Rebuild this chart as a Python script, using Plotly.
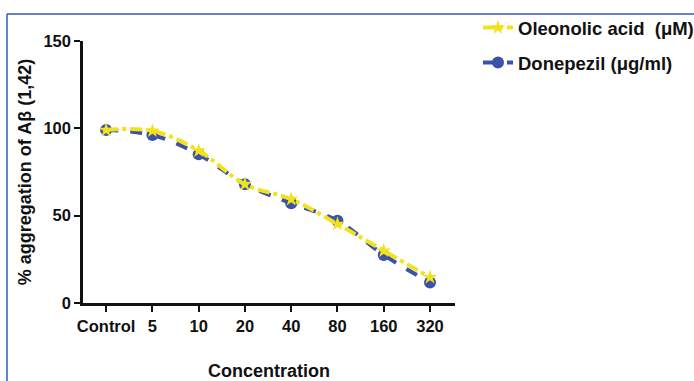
import plotly.graph_objects as go

categories = ["Control", "5", "10", "20", "40", "80", "160", "320"]
oleonolic = [99, 98.6, 87.2, 68, 59.4, 45.2, 29.9, 14.7]
donepezil = [99, 96.2, 85.1, 68, 57.1, 47.1, 27.5, 11.8]
y_ticks = [0, 50, 100, 150]

YELLOW = "#F2E21C"
BLUE = "#3A53A6"
FONT = "Liberation Sans, Arial, sans-serif"

xi = list(range(len(categories)))

fig = go.Figure()
fig.add_trace(go.Scatter(
    x=xi, y=donepezil, mode="lines+markers", name="Donepezil (μg/ml)",
    line=dict(color=BLUE, width=4, dash="dash", shape="spline"),
    marker=dict(symbol="circle", size=12, color=BLUE),
    legend="legend2",
))
fig.add_trace(go.Scatter(
    x=xi, y=oleonolic, mode="lines+markers", name="Oleonolic acid  (μM)",
    line=dict(color=YELLOW, width=4, dash="dashdot", shape="spline"),
    marker=dict(symbol="star", size=11, color=YELLOW),
    legend="legend",
))

W, H = 694, 381
L, R, T, B = 83, 239, 41, 78
pw = W - L - R
ph = H - T - B

def px(x):
    return (x - L) / pw

def py(y):
    return (H - B - y) / ph

fig.update_layout(
    width=W, height=H,
    margin=dict(l=L, r=R, t=T, b=B, autoexpand=False),
    paper_bgcolor="white", plot_bgcolor="white",
    font=dict(family=FONT, size=17, color="#111"),
    xaxis=dict(
        range=[-0.5, 7.54], tickmode="array", tickvals=xi, ticktext=categories,
        showline=True, linecolor="#111", linewidth=2.5,
        ticks="outside", ticklen=6, tickwidth=2, tickcolor="#111",
        showgrid=False, zeroline=False, automargin=False,
        tickfont=dict(family=FONT, size=16.5, color="#111", weight="bold"),
        title=dict(text="<b>Concentration</b>", standoff=34,
                   font=dict(family=FONT, size=18, color="#111")),
    ),
    yaxis=dict(
        range=[0, 150], tickmode="array", tickvals=y_ticks,
        showline=True, linecolor="#111", linewidth=2.5,
        ticks="outside", ticklen=6, tickwidth=2, tickcolor="#111",
        showgrid=False, zeroline=False, automargin=False,
        tickfont=dict(family=FONT, size=16.5, color="#111", weight="bold"),
        title=dict(text="<b>% aggregation of Aβ (1,42)</b>", standoff=8,
                   font=dict(family=FONT, size=18, color="#111")),
    ),
    legend=dict(x=px(478), y=py(9), xanchor="left", yanchor="top",
                bgcolor="rgba(0,0,0,0)", itemwidth=30,
                font=dict(family=FONT, size=18.5, color="#111", weight="bold")),
    legend2=dict(x=px(478), y=py(44), xanchor="left", yanchor="top",
                 bgcolor="rgba(0,0,0,0)", itemwidth=30,
                 font=dict(family=FONT, size=18.5, color="#111", weight="bold")),
    showlegend=True,
    shapes=[
        dict(type="line", xref="paper", yref="paper",
             x0=px(7), x1=px(W + 5), y0=py(14), y1=py(14),
             line=dict(color="#2E5DB0", width=1.5)),
        dict(type="line", xref="paper", yref="paper",
             x0=px(7), x1=px(7), y0=py(14), y1=py(H + 5),
             line=dict(color="#2E5DB0", width=1.5)),
    ],
)

fig.write_html("out.html")
